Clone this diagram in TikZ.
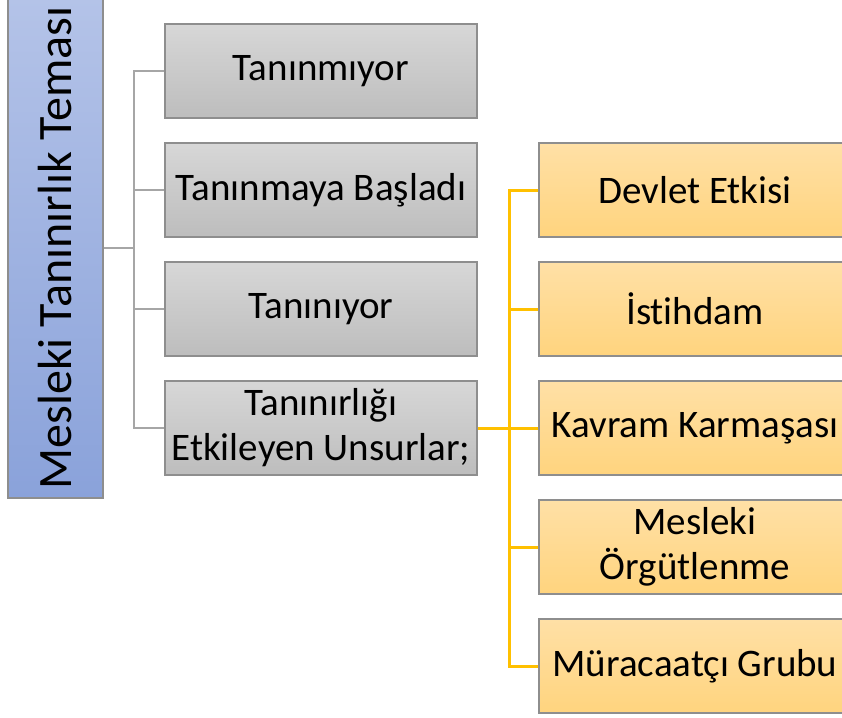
\documentclass[tikz,border=0pt]{standalone}
\usepackage{fontspec}
\setmainfont[Ligatures=NoCommon]{Carlito}
\usetikzlibrary{positioning}

\definecolor{greytop}{HTML}{D7D7D7}
\definecolor{greybot}{HTML}{BDBDBD}
\definecolor{orangetop}{HTML}{FFE0A6}
\definecolor{orangebot}{HTML}{FFD47E}
\definecolor{bluetop}{HTML}{B4C3E8}
\definecolor{bluebot}{HTML}{8AA2DA}
\definecolor{boxedge}{HTML}{8E8E8E}
\definecolor{linegrey}{HTML}{A6A6A6}
\definecolor{lineorange}{HTML}{FFC000}

\tikzset{
  greybox/.style={draw=boxedge, line width=1.2pt, top color=greytop, bottom color=greybot,
    minimum width=312pt, minimum height=94pt, inner sep=0pt, align=center,
    font=\fontsize{39}{45}\selectfont},
  orangebox/.style={greybox, top color=orangetop, bottom color=orangebot},
  greyline/.style={draw=linegrey, line width=2.5pt},
  orangeline/.style={draw=lineorange, line width=3pt},
}

\begin{document}
\begin{tikzpicture}[x=1pt, y=-1pt]
    \useasboundingbox (0,0) rectangle (842,717);
    \clip (0,0) rectangle (842,717);
    % theme
    \node [rotate=90, draw=boxedge, line width=1.2pt, top color=bluetop, bottom color=bluebot,
      minimum width=500pt, minimum height=95pt, inner sep=0pt,
      font=\fontsize{48}{52}\selectfont] (theme) at (55.5, 248) {Mesleki Tanınırlık Teması};
    % grey column
    \node [greybox] (g1) at (321, 71) {Tanınmıyor};
    \node [greybox] (g2) at (321, 190) {Tanınmaya Başladı};
    \node [greybox] (g3) at (321, 309) {Tanınıyor};
    \node [greybox] (g4) at (321, 428) {Tanınırlığı\\Etkileyen Unsurlar;};
    % orange column
    \node [orangebox] (o1) at (695, 190) {Devlet Etkisi};
    \node [orangebox] (o2) at (695, 309) {İstihdam};
    \node [orangebox] (o3) at (695, 428) {Kavram Karmaşası};
    \node [orangebox] (o4) at (695, 547) {Mesleki\\Örgütlenme};
    \node [orangebox] (o5) at (695, 666) {Müracaatçı Grubu};
    \coordinate (gtrunk) at (134, 0);
    \coordinate (otrunk) at (509, 0);
    % grey connectors
    \draw [greyline] (theme.south) to (theme.south -| gtrunk);
    \draw [greyline] (g1.west) to (g1.west -| gtrunk) to (g4.west -| gtrunk) to (g4.west);
    \draw [greyline] (g2.west) to (g2.west -| gtrunk);
    \draw [greyline] (g3.west) to (g3.west -| gtrunk);
    % orange connectors
    \draw [orangeline] (g4.east) to (g4.east -| otrunk);
    \draw [orangeline] (o1.west) to (o1.west -| otrunk) to (o5.west -| otrunk) to (o5.west);
    \draw [orangeline] (o2.west) to (o2.west -| otrunk);
    \draw [orangeline] (o3.west) to (o3.west -| otrunk);
    \draw [orangeline] (o4.west) to (o4.west -| otrunk);
\end{tikzpicture}
\end{document}
